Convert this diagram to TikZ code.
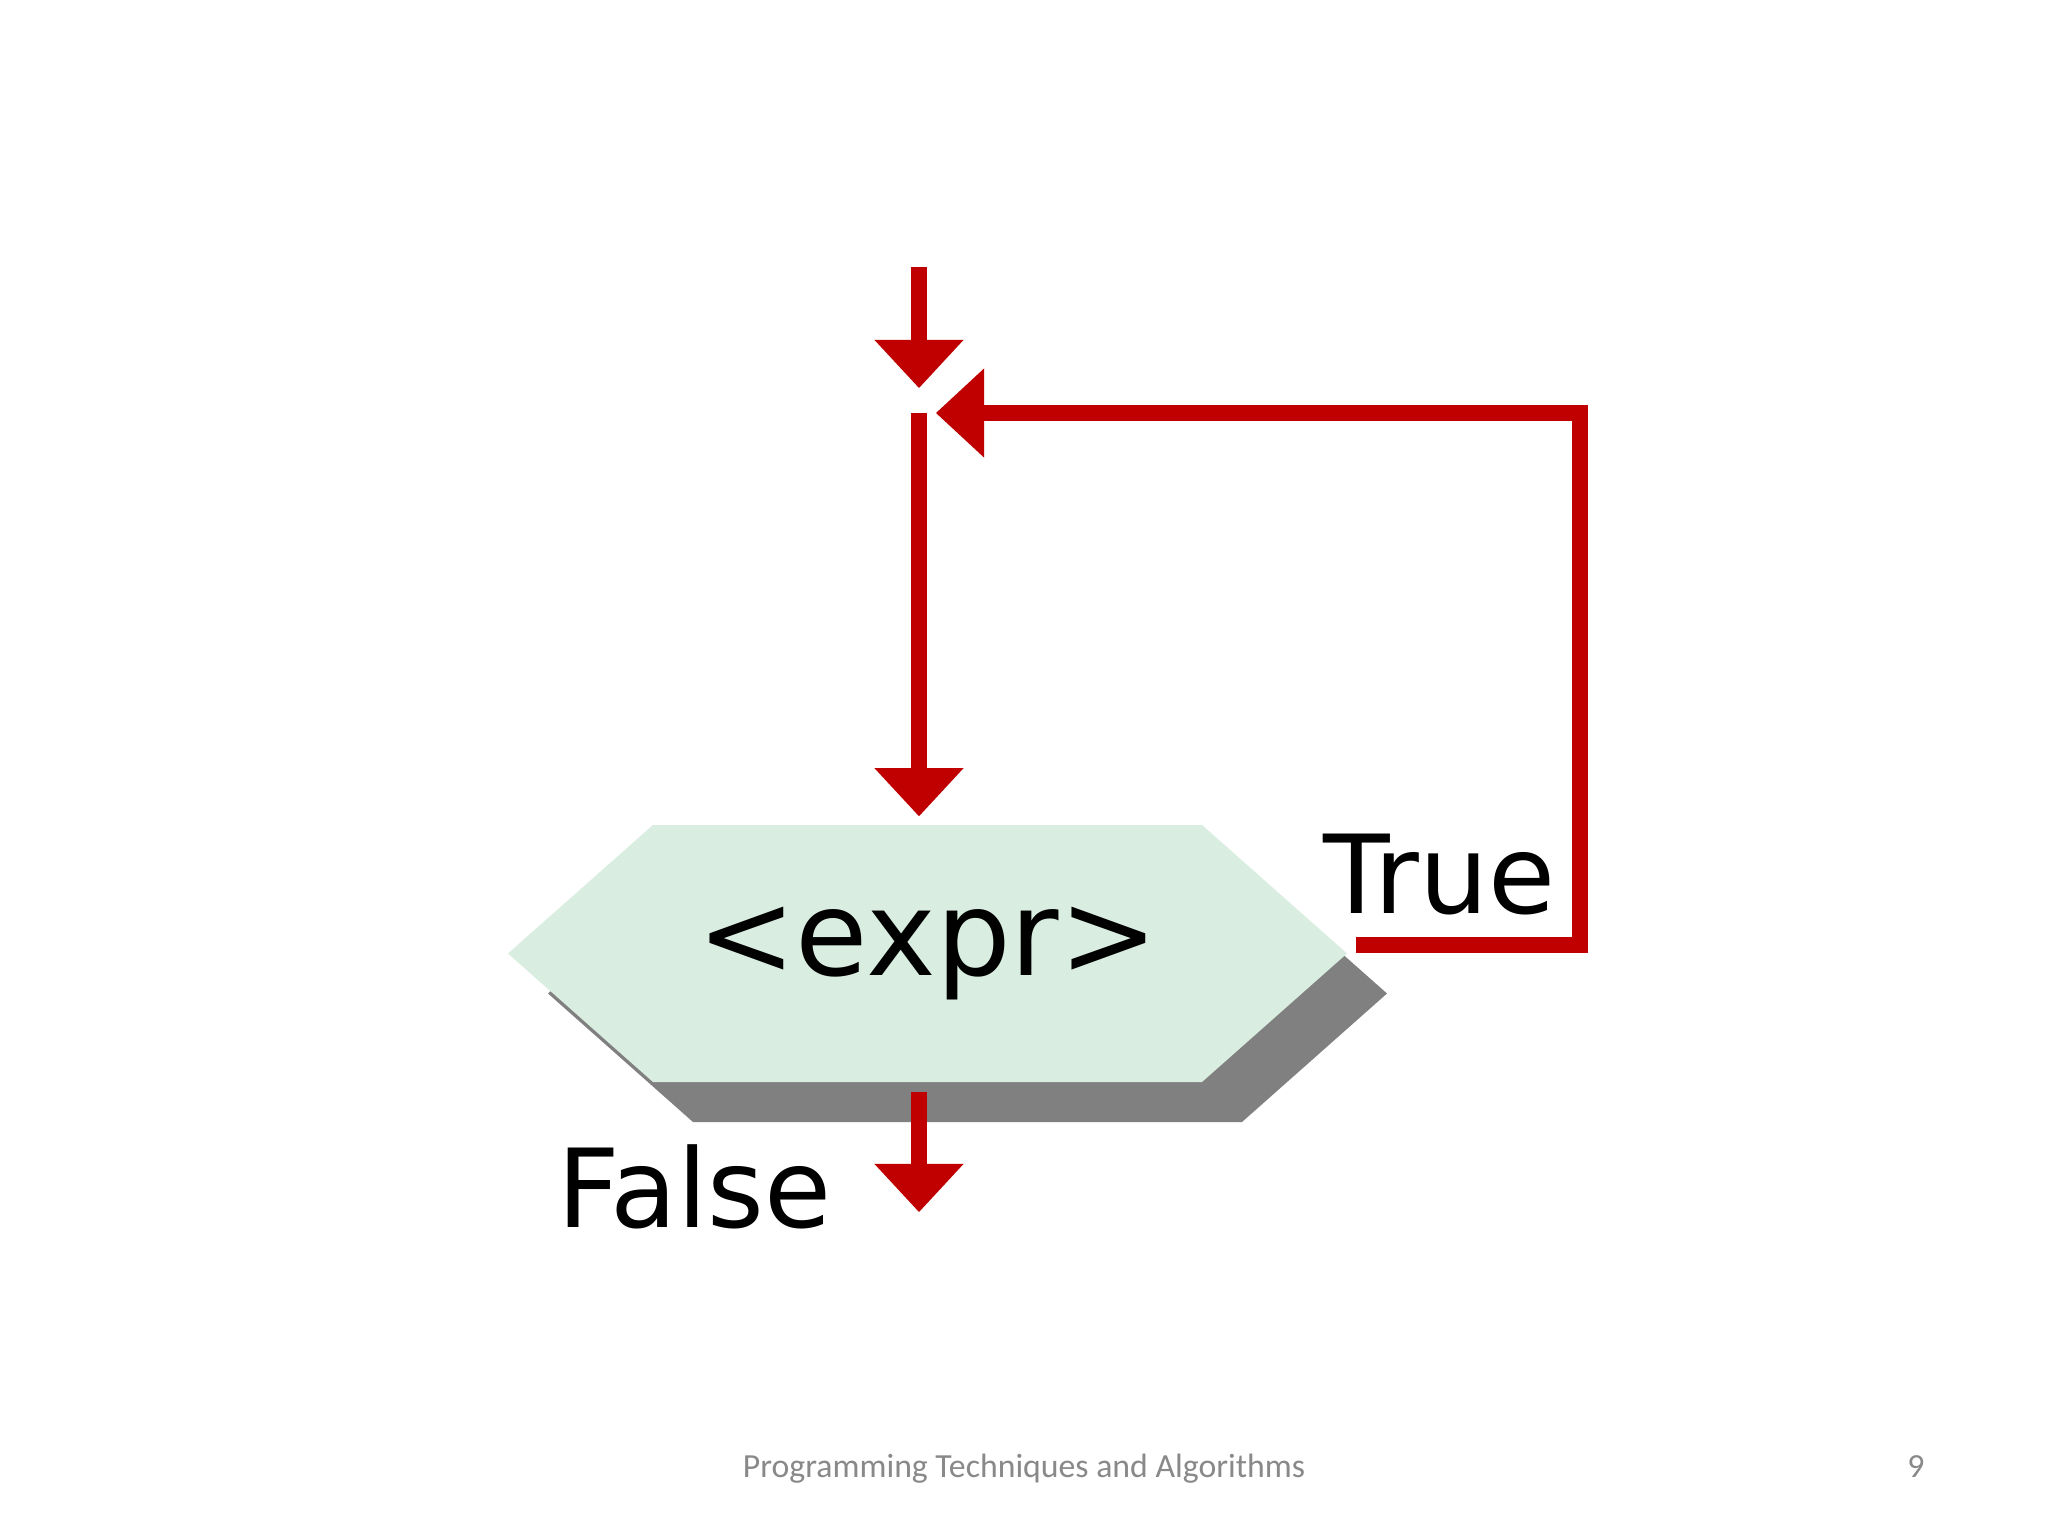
\documentclass[tikz,border=0pt]{standalone}
\usepackage{xcolor}
\usepackage{fontspec}
\usepackage{tikz}
\usetikzlibrary{arrows.meta}

\setmainfont{DejaVu Sans}
\newfontfamily\footfont{Carlito}

\definecolor{flowred}{RGB}{192,0,0}
\definecolor{hexgreen}{RGB}{217,238,224}
\definecolor{hexshadow}{RGB}{128,128,128}
\definecolor{footgray}{RGB}{137,137,137}

\begin{document}
\begin{tikzpicture}[x=0.01cm, y=-0.01cm,
	flow/.style={draw=flowred, line width=0.16cm, -{Triangle[width=0.89cm, length=0.48cm, line width=0pt]}},
	hexbody/.style={minimum width=5.49cm, minimum height=2.57cm, inner sep=0pt, font=\fontsize{33.5}{40}\selectfont},
	flowlabel/.style={anchor=base west, inner sep=0pt, font=\fontsize{31}{36}\selectfont},
	footer/.style={anchor=base, inner sep=0pt, text=footgray, font=\footfont\fontsize{9.6}{11}\selectfont}]
	
	    \useasboundingbox[fill=white] (0,0) rectangle (2048,1536);
	
	    \coordinate (start) at (919,267);
	    \coordinate (merge) at (919,413);
	    \coordinate (back) at (1580,413);
	    \coordinate (out) at (919,1212);
	    \coordinate (mid) at (927.5,953.5);
	
	    \foreach \d/\col in {40/hexshadow, 0/hexgreen}
	        \fill[\col] (mid) ++(-419.5+\d,\d) -- ++(145,-128.5) -- ++(549,0) -- ++(145,128.5) -- ++(-145,128.5) -- ++(-549,0) -- cycle;
	
	    \node[hexbody] (expr) at (mid) {<expr>};
	    \coordinate (tip) at ([xshift=1.45cm, yshift=0.085cm]expr.east);
	
	    \draw[flow, shorten >=0.25cm] (start) -- (merge);
	    \draw[flow, shorten >=0.08cm] (merge) -- (merge |- expr.north);
	    \draw[flow, shorten <=0.08cm, shorten >=0.17cm] (tip) -| (back) -- (merge);
	    \draw[flow, shorten <=0.09cm] (merge |- expr.south) -- (out);
	
	    \node[flowlabel] (truelbl) at (1323,913) {True};
	    \node[flowlabel] (falselbl) at (557,1227) {False};
	
	    \node[footer] (foot) at (1024,1477) {Programming Techniques and Algorithms};
	    \node[footer] (page) at (1916,1477) {9};
	
	\end{tikzpicture}
\end{document}
